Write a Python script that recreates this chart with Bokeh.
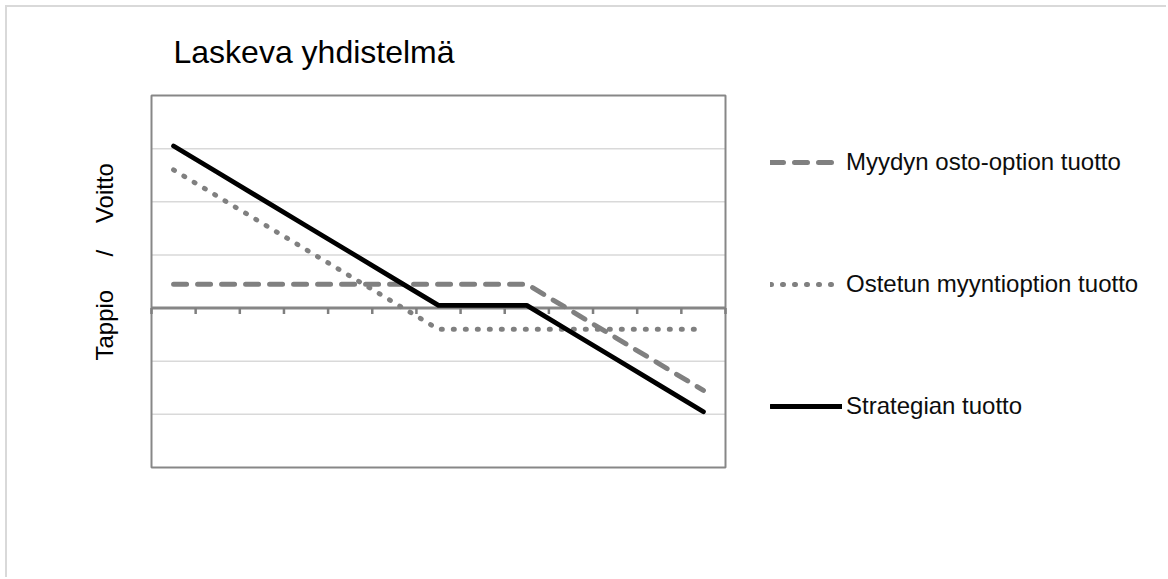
from bokeh.plotting import figure
from bokeh.models import (Range1d, Legend, LegendItem, Title, ColumnDataSource)
from bokeh.embed import file_html
from bokeh.resources import INLINE

# ---- data ----
x_idx = list(range(13))
sold_call = [0.45, 0.45, 0.45, 0.45, 0.45, 0.45, 0.45, 0.45, 0.45, -0.05, -0.55, -1.05, -1.55]
bought_put = [2.6, 2.1, 1.6, 1.1, 0.6, 0.1, -0.4, -0.4, -0.4, -0.4, -0.4, -0.4, -0.4]
strategy = [3.05, 2.55, 2.05, 1.55, 1.05, 0.55, 0.05, 0.05, 0.05, -0.45, -0.95, -1.45, -1.95]
series_names = ["Myydyn osto-option tuotto", "Ostetun myyntioption tuotto", "Strategian tuotto"]
title_text = "Laskeva yhdistelmä"
y_label_parts = ["Tappio", "/", "Voitto"]
grid_values = [-2, -1, 1, 2, 3]
x_min, x_max = -0.5, 12.5
y_min, y_max = -3, 4
tick_positions = [i - 0.5 for i in range(14)]

OFF = 7                      # outer chart border offset in the window
W, H = 1168 - OFF, 579 - OFF
PL, PR, PT, PB = 151 - OFF, 725 - OFF, 95 - OFF, 467 - OFF   # plot box on canvas
PXX = (PR - PL) / (x_max - x_min)
PXY = (PB - PT) / (y_max - y_min)
PAD = 10

p = figure(width=W, height=H, output_backend="svg", toolbar_location=None,
           x_range=Range1d(x_min - PAD / PXX, x_max + (W - PR) / PXX),
           y_range=Range1d(y_min - PAD / PXY, y_max + PAD / PXY),
           min_border_left=PL - PAD, min_border_right=0,
           min_border_top=PT - PAD, min_border_bottom=H - PB - PAD)
p.styles = {"margin-left": "5px", "margin-top": "5px",
            "border-left": "2px solid #d9d9d9", "border-top": "2px solid #d9d9d9"}
p.xaxis.visible = False
p.yaxis.visible = False
p.xgrid.visible = False
p.ygrid.visible = False
p.outline_line_color = None
p.background_fill_color = "white"
p.border_fill_color = "white"

# title
p.title.text = title_text
p.title.align = "left"
p.title.offset = 22 + PAD
p.title.text_font = "Liberation Sans"
p.title.text_font_size = "32px"
p.title.text_font_style = "normal"
p.title.text_color = "black"
p.title.standoff = 42 - PAD

# y axis label
nb = "\u00a0"
ytitle = Title(text=y_label_parts[0] + nb * 5 + y_label_parts[1] + nb * 4 + y_label_parts[2],
               align="left", offset=107 + PAD, text_font="Liberation Sans",
               text_font_size="24px", text_font_style="normal", text_color="black",
               standoff=58 - PAD)
p.add_layout(ytitle, "left")

# horizontal gridlines
n_g = len(grid_values)
p.segment(x0=[x_min] * n_g, x1=[x_max] * n_g, y0=grid_values, y1=grid_values,
          line_color="#d9d9d9", line_width=1.5)

# plot box
p.quad(left=[x_min], right=[x_max], bottom=[y_min], top=[y_max],
       fill_color=None, line_color="#878787", line_width=2)

# zero axis line and ticks
p.segment(x0=[x_min], x1=[x_max], y0=[0], y1=[0], line_color="#868686", line_width=3)
n_t = len(tick_positions)
p.segment(x0=tick_positions, x1=tick_positions, y0=[0] * n_t, y1=[-6 / PXY] * n_t,
          line_color="#7f7f7f", line_width=2.5)

src = ColumnDataSource(dict(x=x_idx, call=sold_call, put=bought_put, strat=strategy))
r1 = p.line("x", "call", source=src, line_color="#808080", line_width=5,
            line_dash="13 11", line_cap="round")
r2 = p.line("x", "put", source=src, line_color="#808080", line_width=5,
            line_dash="1 11", line_cap="round")
r3 = p.line("x", "strat", source=src, line_color="black", line_width=4.8,
            line_cap="round", line_join="round")

legend = Legend(items=[LegendItem(label=series_names[0], renderers=[r1]),
                       LegendItem(label=series_names[1], renderers=[r2]),
                       LegendItem(label=series_names[2], renderers=[r3])],
                location=(770 - OFF - (PL - PAD), 57),
                padding=0, margin=0,
                glyph_width=72, glyph_height=20, label_height=20, spacing=94,
                label_standoff=4, border_line_alpha=0, background_fill_alpha=0,
                label_text_font="Liberation Sans", label_text_font_size="24px",
                label_text_color="#0d0d0d")
p.add_layout(legend, "center")

open("out.html", "w").write(file_html(p, INLINE))
